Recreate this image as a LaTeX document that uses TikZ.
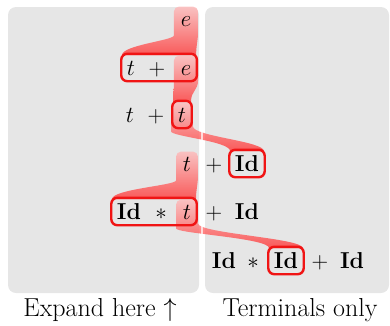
\documentclass[tikz,border=0pt]{standalone}
\usepackage{fix-cm}
\usepackage{tikz}
\usetikzlibrary{positioning,fit,calc,backgrounds}
\definecolor{PanelGrey}{HTML}{E6E6E6}
\definecolor{MarkRed}{HTML}{F01414}
\pgfdeclarelayer{panels}
\pgfdeclarelayer{ribbons}
\pgfsetlayers{panels,ribbons,main}
\tikzset{
  % Grey backdrop
  panel/.style={rectangle,rounded corners=8pt,fill=PanelGrey,draw=none,inner sep=0pt},
  % Grammar symbol
  sym/.style={inner xsep=1pt,inner ysep=0pt,text height=17pt,text depth=2pt,
              anchor=base,font=\fontsize{23}{28}\selectfont},
  % Caption under a panel
  captext/.style={inner sep=0pt,anchor=base,font=\fontsize{26}{30}\selectfont},
  % Area round the symbol that is expanded
  hl/.style={inner xsep=5.5pt,inner ysep=2pt},
  % Red frame round the expansion
  bx/.style={draw=MarkRed,line width=2.4pt,rounded corners=6pt,inner xsep=4.5pt,inner ysep=4pt},
  % Shaded band
  rib/.style={top color=red!28,bottom color=red!80,fill opacity=0.78}
}
\begin{document}
\begin{tikzpicture}[x=1pt,y=-1pt]
  \useasboundingbox (0,0) rectangle (390,325);
  \begin{pgfonlayer}{panels}
    \node[panel,minimum width=191pt,minimum height=286pt] (lhs) at (103.5,150) {};
    \node[panel,minimum width=184pt,minimum height=286pt] (rhs) at (297,150) {};
  \end{pgfonlayer}

  \node[sym] (r1a) at (186,26) {$e$};

  \node[sym] (r2a) at (131,75) {$t$};
  \node[sym] (r2b) at (157,75) {$+$};
  \node[sym] (r2c) at (186,75) {$e$};

  \node[sym] (r3a) at (130,122) {$t$};
  \node[sym] (r3b) at (156,122) {$+$};
  \node[sym] (r3c) at (182,122) {$t$};

  \node[sym] (r4a) at (187,171) {$t$};
  \node[sym] (r4b) at (214,171) {$+$};
  \node[sym] (r4c) at (247,171) {$\mathbf{Id}$};

  \node[sym] (r5a) at (129,219) {$\mathbf{Id}$};
  \node[sym] (r5b) at (161,219) {$*$};
  \node[sym] (r5c) at (187,219) {$t$};
  \node[sym] (r5d) at (214,219) {$+$};
  \node[sym] (r5e) at (247,219) {$\mathbf{Id}$};

  \node[sym] (r6a) at (224,268) {$\mathbf{Id}$};
  \node[sym] (r6b) at (253,268) {$*$};
  \node[sym] (r6c) at (286,268) {$\mathbf{Id}$};
  \node[sym] (r6d) at (320,268) {$+$};
  \node[sym] (r6e) at (352,268) {$\mathbf{Id}$};

  \node[captext] (capl) at (100,316) {Expand here $\uparrow$};
  \node[captext] (capr) at (300,316) {Terminals only};

  % expanded symbols and their frames
  \node[hl,fit=(r1a)] (h1) {};
  \node[hl,fit=(r2c)] (h2) {};
  \node[hl,fit=(r3c)] (h3) {};
  \node[hl,fit=(r4a)] (h4) {};
  \node[hl,fit=(r5c)] (h5) {};
  \node[bx,fit=(r2a)(r2c)] (bx2) {};
  \node[bx,fit=(r3c)]      (bx3) {};
  \node[bx,fit=(r4c)]      (bx4) {};
  \node[bx,fit=(r5a)(r5c)] (bx5) {};
  \node[bx,fit=(r6c)]      (bx6) {};

  \begin{pgfonlayer}{ribbons}
    \path[rib] (h1.south east) [rounded corners=5pt] -- (h1.north east) -- (h1.north west) -- (h1.south west) [sharp corners]
      .. controls +(0,10) and +(0,-10) .. ($(bx2.north west)+(2,2.5)$) -- ($(bx2.north east)+(-2,2.5)$)
      .. controls +(0,-10) and +(0,10) .. (h1.south east) -- cycle;
    \path[rib] (h2.south east) [rounded corners=5pt] -- (h2.north east) -- (h2.north west) -- (h2.south west) [sharp corners]
      .. controls +(0,12) and +(0,-12) .. ($(bx3.north west)+(2,2.5)$) -- ($(bx3.north east)+(-2,2.5)$)
      .. controls +(0,-12) and +(0,12) .. (h2.south east) -- cycle;
    \path[rib] (h3.south east) [rounded corners=5pt] -- (h3.north east) -- (h3.north west) -- (h3.south west) [sharp corners]
      .. controls +(0,10) and +(0,-10) .. ($(bx4.north west)+(2,2.5)$) -- ($(bx4.north east)+(-2,2.5)$)
      .. controls +(0,-10) and +(0,10) .. (h3.south east) -- cycle;
    \path[rib] (h4.south east) [rounded corners=5pt] -- (h4.north east) -- (h4.north west) -- (h4.south west) [sharp corners]
      .. controls +(0,10) and +(0,-10) .. ($(bx5.north west)+(2,2.5)$) -- ($(bx5.north east)+(-2,2.5)$)
      .. controls +(0,-10) and +(0,10) .. (h4.south east) -- cycle;
    \path[rib] (h5.south east) [rounded corners=5pt] -- (h5.north east) -- (h5.north west) -- (h5.south west) [sharp corners]
      .. controls +(0,10) and +(0,-10) .. ($(bx6.north west)+(2,2.5)$) -- ($(bx6.north east)+(-2,2.5)$)
      .. controls +(0,-10) and +(0,10) .. (h5.south east) -- cycle;
    % gap between the panels
    \draw[white,line width=2pt,opacity=0.7] (lhs.north east) ++(2.5,0) -- ++(0,286);
  \end{pgfonlayer}
\end{tikzpicture}
\end{document}
